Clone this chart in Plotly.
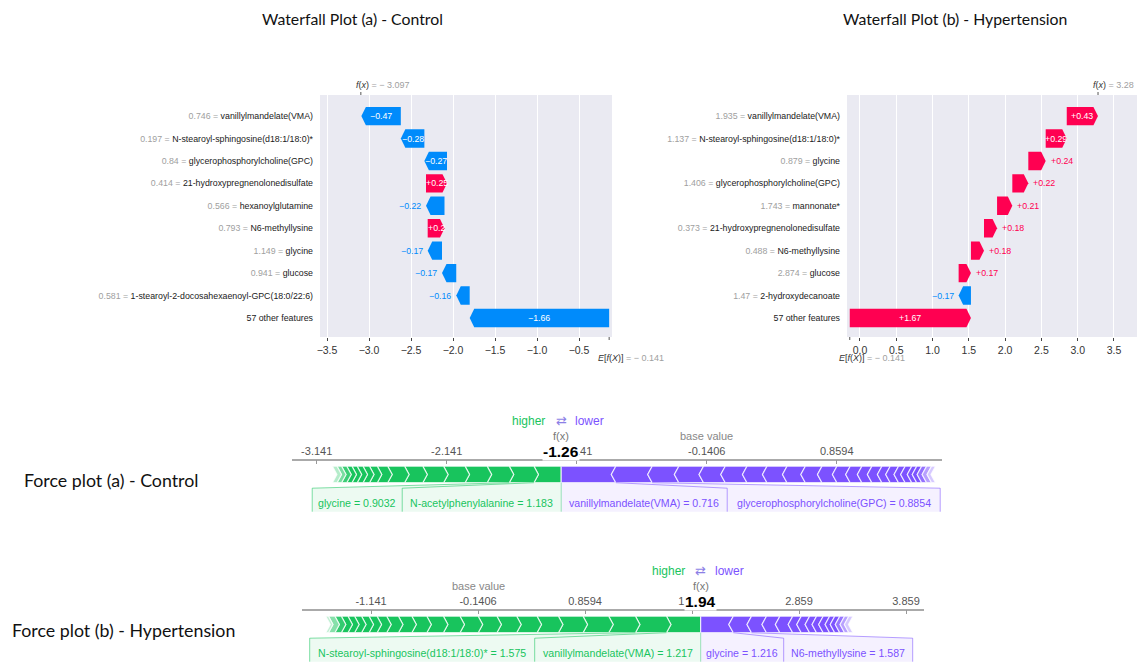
import plotly.graph_objects as go

W, H = 1137, 665
RED, BLUE = "#ff0051", "#008bfb"
GREEN_RGB, PURPLE_RGB = (24, 196, 93), (124, 82, 255)
BG = "#eaeaf2"
ARIAL = "Liberation Sans, Arial"
TITLE_FONT = "Lato, Open Sans, sans-serif"

# ---------------- data : waterfall (a) Control ----------------
wfa_features = ["vanillylmandelate(VMA)", "N-stearoyl-sphingosine(d18:1/18:0)*",
                "glycerophosphorylcholine(GPC)", "21-hydroxypregnenolonedisulfate",
                "hexanoylglutamine", "N6-methyllysine", "glycine", "glucose",
                "1-stearoyl-2-docosahexaenoyl-GPC(18:0/22:6)", "57 other features"]
wfa_values = ["0.746", "0.197", "0.84", "0.414", "0.566", "0.793", "1.149", "0.941", "0.581", ""]
wfa_shap = [-0.47, -0.28, -0.27, 0.25, -0.22, 0.20, -0.17, -0.17, -0.16, -1.66]
wfa_base, wfa_fx = -0.141, -3.097
wfa_ticks = [-3.5, -3.0, -2.5, -2.0, -1.5, -1.0, -0.5]
wfa_ticktext = ["\u22123.5", "\u22123.0", "\u22122.5", "\u22122.0", "\u22121.5", "\u22121.0", "\u22120.5"]

# ---------------- data : waterfall (b) Hypertension ----------------
wfb_features = ["vanillylmandelate(VMA)", "N-stearoyl-sphingosine(d18:1/18:0)*", "glycine",
                "glycerophosphorylcholine(GPC)", "mannonate*", "21-hydroxypregnenolonedisulfate",
                "N6-methyllysine", "glucose", "2-hydroxydecanoate", "57 other features"]
wfb_values = ["1.935", "1.137", "0.879", "1.406", "1.743", "0.373", "0.488", "2.874", "1.47", ""]
wfb_shap = [0.43, 0.29, 0.24, 0.22, 0.21, 0.18, 0.18, 0.17, -0.17, 1.67]
wfb_base, wfb_fx = -0.141, 3.28
wfb_ticks = [0.0, 0.5, 1.0, 1.5, 2.0, 2.5, 3.0, 3.5]
wfb_ticktext = ["0.0", "0.5", "1.0", "1.5", "2.0", "2.5", "3.0", "3.5"]

# ---------------- data : force plot (a) Control ----------------
fa_base, fa_fx = -0.1406, -1.26
fa_pos = [0.21, 0.19, 0.17, 0.17, 0.165, 0.16, 0.14, 0.13, 0.08, 0.06, 0.05, 0.045,
          0.04, 0.04, 0.04, 0.035, 0.035]
fa_neg = [0.42, 0.28, 0.205, 0.19, 0.167, 0.167, 0.154, 0.154, 0.141, 0.128, 0.115, 0.102,
          0.09, 0.077, 0.077, 0.064, 0.064, 0.051, 0.051, 0.038, 0.038, 0.038, 0.038, 0.03]
fa_pos_labels = ["N-acetylphenylalanine = 1.183", "glycine = 0.9032"]
fa_neg_labels = ["vanillylmandelate(VMA) = 0.716", "glycerophosphorylcholine(GPC) = 0.8854"]
fa_ticks = [-3.141, -2.141, -1.141, -0.1406, 0.8594]
fa_ticktext = ["-3.141", "-2.141", "-1.141", "-0.1406", "0.8594"]

# ---------------- data : force plot (b) Hypertension ----------------
fb_base, fb_fx = -0.1406, 1.94
fb_pos = [0.32, 0.29, 0.25, 0.24, 0.23, 0.2, 0.19, 0.185, 0.175, 0.17, 0.155, 0.155, 0.14,
          0.125, 0.11, 0.09, 0.075, 0.07, 0.065, 0.062, 0.062, 0.06, 0.06, 0.025]
fb_neg = [0.305, 0.17, 0.14, 0.125, 0.12, 0.08, 0.078, 0.065, 0.062, 0.06, 0.048, 0.047,
          0.045, 0.04, 0.038]
fb_pos_labels = ["vanillylmandelate(VMA) = 1.217", "N-stearoyl-sphingosine(d18:1/18:0)* = 1.575"]
fb_neg_labels = ["glycine = 1.216", "N6-methyllysine = 1.587"]
fb_ticks = [-1.141, -0.1406, 0.8594, 1.859, 2.859, 3.859]
fb_ticktext = ["-1.141", "-0.1406", "0.8594", "1.859", "2.859", "3.859"]

# ---------------- layout geometry (pixels) ----------------
def PX(x):
    return x / W


def PY(y):
    return 1 - y / H


WF_TOP, WF_BOT = 95, 337
WFA_X = (320, 612)
WFB_X = (847, 1137)
WFA_RANGE = (-3.5833, -0.1071)
WFB_RANGE = (-0.179, 3.817)
WF_YRANGE = (-0.85, 9.94)

FA_X, FA_LINE = (292, 941.7), 460.7
FB_X, FB_LINE = (301.7, 924.3), 610.7
FA_RANGE = (-3.331, 1.667)
FB_RANGE = (-1.789, 4.030)
FA_LABW = ([159, 90], [166, 213])
FB_LABW = ([166, 225], [83, 129])
BAR_TOP, BAR_BOT, LAB_TOP, LAB_BOT, TEXT_Y = 5.5, 22.0, 27.5, 51.0, 42.0

fig = go.Figure()
annotations = []
shapes = []


def ann(**kw):
    kw.setdefault("showarrow", False)
    kw.setdefault("xanchor", "center")
    kw.setdefault("yanchor", "middle")
    annotations.append(kw)


def fmt(v):
    s = f"{v:+.2f}".rstrip("0").rstrip(".")
    return s.replace("-", "\u2212")


def waterfall(features, values, shap, base, fx, xa, ya, xpx, xrange):
    n = len(features)
    ppu = (xpx[1] - xpx[0]) / (xrange[1] - xrange[0])
    hl = 4.5 / ppu
    h = 0.82
    cum = base
    for i in range(n - 1, -1, -1):
        v = shap[i]
        y = n - 1 - i
        s, e = cum, cum + v
        cum = e
        L = min(hl, abs(v))
        if v > 0:
            xs = [s, e - L, e, e - L, s, s]
        else:
            xs = [s, e + L, e, e + L, s, s]
        ys = [y - h / 2, y - h / 2, y, y + h / 2, y + h / 2, y - h / 2]
        col = RED if v > 0 else BLUE
        fig.add_trace(go.Scatter(x=xs, y=ys, fill="toself", fillcolor=col, mode="lines",
                                 line=dict(width=0, color=col), xaxis=xa, yaxis=ya,
                                 hoverinfo="skip", showlegend=False))
        txt = fmt(v)
        if abs(v) * ppu >= 4.1 * len(txt):
            ann(x=(s + e) / 2, y=y, xref=xa, yref=ya, text=txt,
                font=dict(size=8.8, color="white", family=ARIAL))
        else:
            ann(x=e, y=y, xref=xa, yref=ya, text=txt,
                xanchor="left" if v > 0 else "right", xshift=3 if v > 0 else -3,
                font=dict(size=8.8, color=col, family=ARIAL))
    shapes.append(dict(type="rect", xref=f"{xa} domain", yref=f"{ya} domain", x0=0, x1=1, y0=0, y1=1,
                       fillcolor=BG, line=dict(width=0), layer="below"))
    shapes.append(dict(type="line", xref=xa, yref="paper", x0=fx, x1=fx, y0=PY(WF_TOP), y1=PY(WF_TOP - 3),
                       line=dict(color="#555", width=1)))
    shapes.append(dict(type="line", xref=xa, yref="paper", x0=base, x1=base, y0=PY(WF_BOT), y1=PY(WF_BOT + 3),
                       line=dict(color="#555", width=1)))
    fxs = f"{fx:g}".replace("-", "\u2212 ")
    bs = f"{base:g}".replace("-", "\u2212 ")
    ann(x=fx, y=PY(85), xref=xa, yref="paper", xanchor="left", xshift=-7,
        text=f"<i>f</i>(<i>x</i>) <span style='color:#a0a0a0'>= {fxs}</span>",
        font=dict(size=9, color="#333", family=ARIAL))
    ann(x=base, y=PY(358), xref=xa, yref="paper", xanchor="left", xshift=-13,
        text=f"<i>E</i>[<i>f</i>(<i>X</i>)] <span style='color:#a0a0a0'>= {bs}</span>",
        font=dict(size=9, color="#333", family=ARIAL))
    ticktext = []
    for f, val in zip(features, values):
        if val:
            ticktext.append(f"<span style='color:#a0a0a0'>{val} = </span>{f}")
        else:
            ticktext.append(f)
    return list(range(n - 1, -1, -1)), ticktext


def rgba(c, a):
    return f"rgba({c[0]},{c[1]},{c[2]},{a})"


def force(pos, neg, base, fx, xa, ya, xpx, xrange, pos_labels, neg_labels, labw):
    ppu = (xpx[1] - xpx[0]) / (xrange[1] - xrange[0])
    t = 4.5 / ppu
    mid = (BAR_TOP + BAR_BOT) / 2
    for side, vals, c in ((-1, pos, GREEN_RGB), (1, neg, PURPLE_RGB)):
        edges = [fx]
        for v in vals:
            edges.append(edges[-1] + side * v)
        end = edges[-1]
        for k in range(len(vals)):
            inner, outer = edges[k], edges[k + 1]
            m = (inner + outer) / 2
            dist = abs(m - end) * ppu
            op = min(1.0, 0.2 + dist / 18.0)
            ti = 0 if k == 0 else t
            if side < 0:  # green, pointing right
                a, b = outer, inner
                xs = [a, b, b + ti, b, a, a + t, a]
            else:        # purple, pointing left
                a, b = inner, outer
                xs = [a, b, b - t, b, a, a - ti, a]
            ys = [BAR_TOP, BAR_TOP, mid, BAR_BOT, BAR_BOT, mid, BAR_TOP]
            fig.add_trace(go.Scatter(x=xs, y=ys, fill="toself", fillcolor=rgba(c, op), mode="lines",
                                     line=dict(width=1.2, color="rgba(255,255,255,0.75)"),
                                     xaxis=xa, yaxis=ya, hoverinfo="skip", showlegend=False))
        labels = pos_labels if side < 0 else neg_labels
        widths = labw[0] if side < 0 else labw[1]
        lab_inner = fx
        for k, (lab, w) in enumerate(zip(labels, widths)):
            lab_outer = lab_inner + side * w / ppu
            seg_inner, seg_outer = edges[k], edges[k + 1]
            xs = [seg_outer, lab_outer, lab_outer, lab_inner, lab_inner, seg_inner, seg_outer]
            ys = [BAR_BOT, LAB_TOP, LAB_BOT, LAB_BOT, LAB_TOP, BAR_BOT, BAR_BOT]
            fig.add_trace(go.Scatter(x=xs, y=ys, fill="toself", fillcolor=rgba(c, 0.08), mode="lines",
                                     line=dict(width=0, color=rgba(c, 0)), xaxis=xa, yaxis=ya,
                                     hoverinfo="skip", showlegend=False))
            fig.add_trace(go.Scatter(x=[seg_outer, lab_outer, lab_outer], y=[BAR_BOT, LAB_TOP, LAB_BOT],
                                     mode="lines", line=dict(width=1, color=rgba(c, 0.55)),
                                     xaxis=xa, yaxis=ya, hoverinfo="skip", showlegend=False))
            ann(x=(lab_inner + lab_outer) / 2, y=TEXT_Y, xref=xa, yref=ya, text=lab,
                font=dict(size=10.6, color=rgba(c, 1), family=ARIAL))
            lab_inner = lab_outer
    fig.add_trace(go.Scatter(x=[fx, fx], y=[BAR_BOT, LAB_BOT], mode="lines",
                             line=dict(width=1, color=rgba(GREEN_RGB, 0.4)), xaxis=xa, yaxis=ya,
                             hoverinfo="skip", showlegend=False))


def force_top(fx, base, xa, line_y):
    ann(x=fx, y=PY(line_y - 40), xref=xa, yref="paper", text="higher", xanchor="right", xshift=-14,
        font=dict(size=12, color=rgba(GREEN_RGB, 1), family=ARIAL))
    ann(x=fx, y=PY(line_y - 40), xref=xa, yref="paper", text="\u21c4",
        font=dict(size=13, color="#8d7fe6", family="DejaVu Sans"))
    ann(x=fx, y=PY(line_y - 40), xref=xa, yref="paper", text="lower", xanchor="left", xshift=12,
        font=dict(size=12, color=rgba(PURPLE_RGB, 1), family=ARIAL))
    ann(x=fx, y=PY(line_y - 24.5), xref=xa, yref="paper", text="f(x)",
        font=dict(size=11, color="#777", family=ARIAL))
    ann(x=fx, y=PY(line_y - 9), xref=xa, yref="paper", text=f"<b>{fx:g}</b>",
        bgcolor="white", borderpad=0, font=dict(size=15.5, color="black", family=ARIAL))
    ann(x=base, y=PY(line_y - 24.5), xref=xa, yref="paper", text="base value",
        font=dict(size=11, color="#888", family=ARIAL))


wfa_tv, wfa_tt = waterfall(wfa_features, wfa_values, wfa_shap, wfa_base, wfa_fx, "x", "y", WFA_X, WFA_RANGE)
wfb_tv, wfb_tt = waterfall(wfb_features, wfb_values, wfb_shap, wfb_base, wfb_fx, "x2", "y2", WFB_X, WFB_RANGE)
force(fa_pos, fa_neg, fa_base, fa_fx, "x3", "y3", FA_X, FA_RANGE, fa_pos_labels, fa_neg_labels, FA_LABW)
force(fb_pos, fb_neg, fb_base, fb_fx, "x4", "y4", FB_X, FB_RANGE, fb_pos_labels, fb_neg_labels, FB_LABW)
force_top(fa_fx, fa_base, "x3", FA_LINE)
force_top(fb_fx, fb_base, "x4", FB_LINE)

ann(x=PX(352), y=PY(18), xref="paper", yref="paper", text="Waterfall Plot (a) - Control",
    font=dict(size=15.8, color="#111", family=TITLE_FONT))
ann(x=PX(955), y=PY(18), xref="paper", yref="paper", text="Waterfall Plot (b) - Hypertension",
    font=dict(size=15.8, color="#111", family=TITLE_FONT))
ann(x=PX(22), y=PY(480), xref="paper", yref="paper", text="Force plot (a) - Control", xanchor="left",
    font=dict(size=17.8, color="#111", family=TITLE_FONT))
ann(x=PX(10), y=PY(630), xref="paper", yref="paper", text="Force plot (b) - Hypertension",
    xanchor="left", font=dict(size=17.8, color="#111", family=TITLE_FONT))

wf_x_common = dict(showgrid=True, gridcolor="white", gridwidth=1, zeroline=False, ticks="outside",
                   ticklen=3, tickcolor="#444", showline=False, automargin=False,
                   tickfont=dict(size=10.5, color="#333", family=ARIAL))
wf_y_common = dict(range=list(WF_YRANGE), showgrid=False, zeroline=False, ticks="", automargin=False,
                   ticklabelstandoff=6, tickfont=dict(size=8.8, color="#1a1a1a", family=ARIAL),
                   domain=[PY(WF_BOT), PY(WF_TOP)])
fp_x_common = dict(side="top", ticks="inside", ticklen=4, tickcolor="#999", showline=True,
                   linecolor="#aaa", linewidth=1.5, showgrid=False, zeroline=False, automargin=False,
                   tickfont=dict(size=11, color="#555", family=ARIAL))
fp_y_common = dict(range=[54, 0], visible=False, showgrid=False, zeroline=False, automargin=False)

fig.update_layout(
    width=W, height=H, margin=dict(l=0, r=0, t=0, b=0),
    paper_bgcolor="white", plot_bgcolor="white", showlegend=False,
    xaxis=dict(domain=[PX(WFA_X[0]), PX(WFA_X[1])], range=list(WFA_RANGE), anchor="y",
               tickvals=wfa_ticks, ticktext=wfa_ticktext, **wf_x_common),
    yaxis=dict(anchor="x", tickvals=wfa_tv, ticktext=wfa_tt, **wf_y_common),
    xaxis2=dict(domain=[PX(WFB_X[0]), PX(WFB_X[1])], range=list(WFB_RANGE), anchor="y2",
                tickvals=wfb_ticks, ticktext=wfb_ticktext, **wf_x_common),
    yaxis2=dict(anchor="x2", tickvals=wfb_tv, ticktext=wfb_tt, **wf_y_common),
    xaxis3=dict(domain=[PX(FA_X[0]), PX(FA_X[1])], range=list(FA_RANGE), anchor="y3",
                tickvals=fa_ticks, ticktext=fa_ticktext, **fp_x_common),
    yaxis3=dict(anchor="x3", domain=[PY(FA_LINE + 54), PY(FA_LINE)], **fp_y_common),
    xaxis4=dict(domain=[PX(FB_X[0]), PX(FB_X[1])], range=list(FB_RANGE), anchor="y4",
                tickvals=fb_ticks, ticktext=fb_ticktext, **fp_x_common),
    yaxis4=dict(anchor="x4", domain=[max(0, PY(FB_LINE + 54)), PY(FB_LINE)], **fp_y_common),
    annotations=annotations, shapes=shapes,
)

fig.write_html("out.html", config={"displayModeBar": False},
               post_script="document.body.style.margin='0px';document.body.style.overflow='hidden';")
